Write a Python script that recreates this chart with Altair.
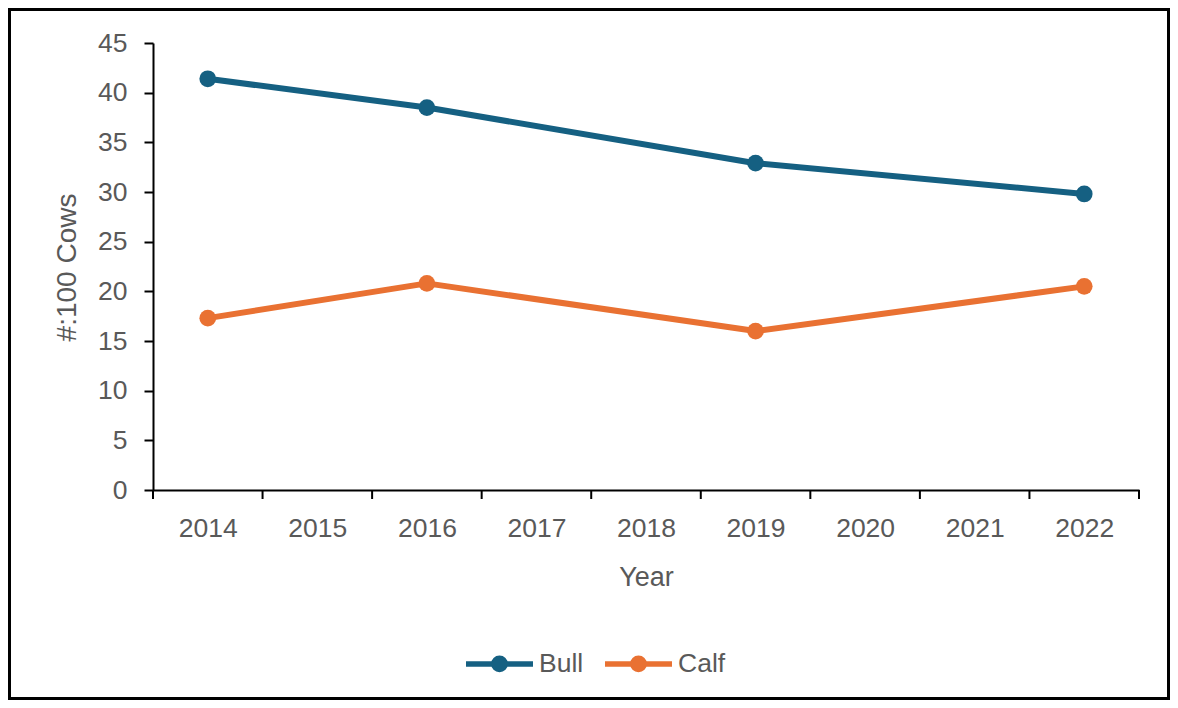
import altair as alt
import pandas as pd

years_all = [2014, 2015, 2016, 2017, 2018, 2019, 2020, 2021, 2022]
obs_years = [2014, 2016, 2019, 2022]
bull = [41.4, 38.5, 32.9, 29.8]
calf = [17.3, 20.8, 16.0, 20.5]
series = ["Bull", "Calf"]
colors = ["#156082", "#E97132"]
y_ticks = [0, 5, 10, 15, 20, 25, 30, 35, 40, 45]

rows = []
for name, vals in zip(series, [bull, calf]):
    for yr, v in zip(obs_years, vals):
        rows.append({"Year": yr, "Value": v, "Series": name})
df = pd.DataFrame(rows)

bounds = pd.DataFrame({"b": [y - 0.5 for y in years_all] + [years_all[-1] + 0.5]})

FONT = "Liberation Sans"
GREY = "#595959"
W, H = 986, 447
PL, PT, PR, PB = 145, 35, 31, 210
FS = 26.5

xscale = alt.Scale(domain=[2013.5, 2022.5], nice=False, zero=False)
yscale = alt.Scale(domain=[0, 45], nice=False)
cscale = alt.Scale(domain=series, range=colors)

def ring(r):
    return (f"M-{r},0A{r},{r} 0 1,0 {r},0A{r},{r} 0 1,0 -{r},0Z")

legend_path = "M-1,0L1,0" + ring(0.03) + ring(0.1) + ring(0.17)

base = alt.Chart(df)

lines = base.mark_line(strokeWidth=6, strokeCap="round", strokeJoin="round").encode(
    x=alt.X("Year:Q", scale=xscale,
            axis=alt.Axis(values=years_all, format="d", ticks=False, tickSize=0,
                          domainColor="black", domainWidth=2, grid=False,
                          labelFont=FONT, labelFontSize=FS, labelColor=GREY,
                          labelPadding=25, labelFlush=False,
                          title="Year", titleFont=FONT, titleFontSize=27,
                          titleFontWeight="normal", titleColor=GREY,
                          titleY=87, titleBaseline="middle")),
    y=alt.Y("Value:Q", scale=yscale,
            axis=alt.Axis(values=y_ticks, tickSize=9, tickColor="black", tickWidth=2,
                          domainColor="black", domainWidth=2, grid=False,
                          labelFont=FONT, labelFontSize=FS, labelColor=GREY,
                          labelPadding=17,
                          title="#:100 Cows", titleFont=FONT, titleFontSize=28,
                          titleFontWeight="normal", titleColor=GREY,
                          titleX=-86, titleY=224, titleAngle=270,
                          titleAlign="center", titleBaseline="middle")),
    color=alt.Color("Series:N", scale=cscale,
                    legend=alt.Legend(title=None, orient="none", direction="horizontal",
                                      legendX=310, legendY=584,
                                      symbolType=legend_path, symbolSize=4489,
                                      symbolStrokeWidth=5.5, labelFont=FONT,
                                      labelFontSize=FS, labelColor=GREY,
                                      labelOffset=3, columnPadding=10, padding=0)),
    detail="Series:N",
)

points = base.mark_point(filled=True, size=280, opacity=1).encode(
    x=alt.X("Year:Q", scale=xscale),
    y=alt.Y("Value:Q", scale=yscale),
    color=alt.Color("Series:N", scale=cscale, legend=None),
)

ticks = alt.Chart(bounds).mark_rule(color="black", strokeWidth=2).encode(
    x=alt.X("b:Q", scale=xscale),
    y=alt.value(H),
    y2=alt.value(H + 9),
)

frame = alt.Chart(alt.Data(values=[{"k": 1}])).mark_rect(
    filled=False, stroke="black", strokeWidth=3
).encode(
    x=alt.value(-PL + 1.5), x2=alt.value(W + PR - 1.5),
    y=alt.value(-PT + 1.5), y2=alt.value(H + PB - 1.5),
)

chart = alt.layer(frame, ticks, lines, points).properties(
    width=W, height=H,
    autosize=alt.AutoSizeParams(type="none"),
    padding={"left": PL, "top": PT, "right": PR, "bottom": PB},
    background="white",
).configure_view(stroke=None)

chart.save("out.html", embed_options={"renderer": "svg", "actions": False})
